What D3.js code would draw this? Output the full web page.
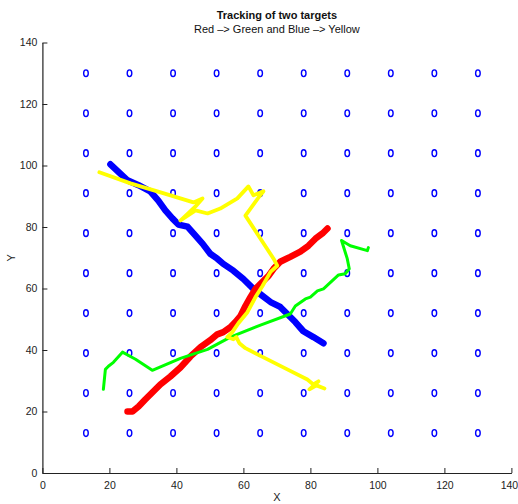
<!DOCTYPE html>
<html>
<head>
<meta charset="utf-8">
<script src="https://cdn.jsdelivr.net/npm/d3@7"></script>
<style>
  html, body { margin: 0; padding: 0; background: #fff; }
  svg { display: block; font-family: "Liberation Sans", Arial, Helvetica, sans-serif; }
</style>
</head>
<body>
<svg id="chart" width="518" height="504"></svg>
<script>
// Sensor grid positions
const gridX = [13, 26, 39, 52, 65, 78, 91, 104, 117, 130];
const gridY = [13, 26, 39, 52, 65, 78, 91, 104, 117, 130];

// Target 1 (red) and target 2 (blue) true paths
const redTrack = [
  [25.4, 20.0], [26.9, 20.0], [28.7, 21.6], [30.7, 23.9], [32.8, 26.2], [35.2, 28.8],
  [38.2, 31.4], [41.2, 34.3], [44.2, 37.9], [47.2, 40.9], [50.1, 43.2], [52.2, 45.1],
  [54.0, 45.8], [56.1, 47.4], [57.6, 49.1], [59.1, 51.0], [60.6, 54.3], [62.1, 57.2],
  [63.6, 59.9], [65.7, 62.2], [67.5, 64.1], [69.0, 66.4], [71.0, 68.7], [74.0, 70.3],
  [77.0, 72.0], [79.4, 73.9], [81.5, 76.2], [83.6, 77.9], [85.1, 79.5]
];
const blueTrack = [
  [20.3, 100.4], [25.4, 95.2], [28.7, 93.6], [32.2, 91.6], [34.6, 88.6], [36.7, 85.4],
  [38.8, 82.8], [40.6, 80.8], [43.3, 80.1], [45.1, 77.9], [47.8, 74.6], [50.1, 71.3],
  [52.2, 69.7], [54.0, 68.0], [57.0, 65.8], [60.0, 63.1], [63.0, 59.9], [65.7, 57.6],
  [68.1, 55.6], [71.0, 54.0], [73.1, 51.7], [75.5, 49.1], [77.9, 46.1], [80.9, 44.2],
  [83.9, 42.2]
];

// Estimated tracks
const greenTrack = [
  [18.2, 27.2], [18.8, 33.7], [19.7, 34.7], [21.2, 36.0], [23.9, 39.3], [27.8, 37.0],
  [32.8, 33.4], [41.2, 37.3], [49.3, 40.2], [56.1, 44.2], [65.1, 48.1], [74.0, 51.7],
  [75.5, 54.3], [78.5, 56.6], [80.0, 57.2], [82.1, 59.2], [83.9, 59.9], [88.4, 64.4],
  [90.4, 64.8], [91.6, 66.4], [91.0, 69.7], [89.3, 75.6], [91.9, 73.9], [97.0, 72.3],
  [97.3, 73.3]
];
const yellowTrack = [
  [17.0, 97.8], [26.3, 94.2], [34.3, 91.6], [45.1, 88.0], [47.8, 89.3], [45.7, 86.7],
  [41.2, 82.1], [45.7, 85.4], [49.3, 84.4], [53.1, 86.0], [58.2, 89.3], [61.5, 93.2],
  [63.0, 90.3], [66.0, 91.6], [64.8, 90.0], [60.6, 83.7], [65.1, 76.2], [69.0, 69.7],
  [70.1, 67.4], [68.1, 65.4], [65.7, 60.8], [63.6, 57.2], [61.2, 52.3], [58.5, 48.7],
  [56.7, 45.8], [55.2, 44.2], [57.0, 43.5], [57.9, 44.2], [58.8, 42.2], [60.6, 40.6],
  [66.0, 37.6], [73.1, 33.7], [79.1, 30.4], [80.9, 28.8], [82.4, 29.8], [79.7, 27.2],
  [81.8, 28.5], [84.2, 27.5]
];

const xTicks = [0, 20, 40, 60, 80, 100, 120, 140];
const yTicks = [0, 20, 40, 60, 80, 100, 120, 140];

const titleText = "Tracking of two targets";
const subtitleText = "Red \u2013> Green and Blue \u2013> Yellow";

const plotLeft = 42.4, plotRight = 511.4, plotTop = 42.5, plotBottom = 473;

const svg = d3.select("#chart");

const x = d3.scaleLinear().domain([0, 140]).range([plotLeft, plotRight]);
const y = d3.scaleLinear().domain([0, 140]).range([plotBottom, plotTop]);

// Sensor markers
const grid = [];
gridY.forEach(gy => gridX.forEach(gx => grid.push([gx, gy])));
svg.append("g").selectAll("ellipse").data(grid).join("ellipse")
  .attr("cx", d => x(d[0]))
  .attr("cy", d => y(d[1]))
  .attr("rx", 2.3)
  .attr("ry", 3.4)
  .attr("fill", "none")
  .attr("stroke", "#0000ff")
  .attr("stroke-width", 1.4);

const line = d3.line().x(d => x(d[0])).y(d => y(d[1]));

function drawTrack(data, color, width) {
  svg.append("path")
    .datum(data)
    .attr("d", line)
    .attr("fill", "none")
    .attr("stroke", color)
    .attr("stroke-width", width)
    .attr("stroke-linejoin", "round")
    .attr("stroke-linecap", "round");
}

drawTrack(blueTrack, "#0000ff", 6.5);
drawTrack(redTrack, "#ff0000", 6.5);
drawTrack(greenTrack, "#00ff00", 3);
drawTrack(yellowTrack, "#ffff00", 3.8);

// Axes (ticks point inward)
const xAxis = d3.axisBottom(x).tickValues(xTicks).tickSizeInner(-5).tickSizeOuter(0).tickPadding(9);
const yAxis = d3.axisLeft(y).tickValues(yTicks).tickSizeInner(-5).tickSizeOuter(0).tickPadding(9);

const gxAxis = svg.append("g").attr("transform", `translate(0,${plotBottom})`).call(xAxis);
const gyAxis = svg.append("g").attr("transform", `translate(${plotLeft},0)`).call(yAxis);

[gxAxis, gyAxis].forEach(g => {
  g.select(".domain").attr("stroke", "#222").attr("stroke-width", 1.2);
  g.selectAll(".tick line").attr("stroke", "#222");
  g.selectAll(".tick text").attr("fill", "#222").style("font-size", "10.5px")
    .style("font-family", "'Liberation Sans', Arial, sans-serif");
});
gyAxis.selectAll(".tick text").attr("dx", "4px");
// keep the last x tick label inside the page edge
gxAxis.selectAll(".tick text").filter(d => d === 140).attr("dx", "-2.5px");

// Axis labels
svg.append("text").attr("x", x(70)).attr("y", 501)
  .attr("text-anchor", "middle").style("font-size", "11px").attr("fill", "#222").text("X");
svg.append("text").attr("transform", `translate(15,${y(70)}) rotate(-90)`)
  .attr("text-anchor", "middle").style("font-size", "11px").attr("fill", "#222").text("Y");

// Titles
svg.append("text").attr("x", x(70)).attr("y", 19)
  .attr("text-anchor", "middle").style("font-size", "11px").style("font-weight", "bold")
  .attr("fill", "#111").text(titleText);
svg.append("text").attr("x", x(70)).attr("y", 33)
  .attr("text-anchor", "middle").style("font-size", "11px")
  .attr("fill", "#111").text(subtitleText);
</script>
</body>
</html>
